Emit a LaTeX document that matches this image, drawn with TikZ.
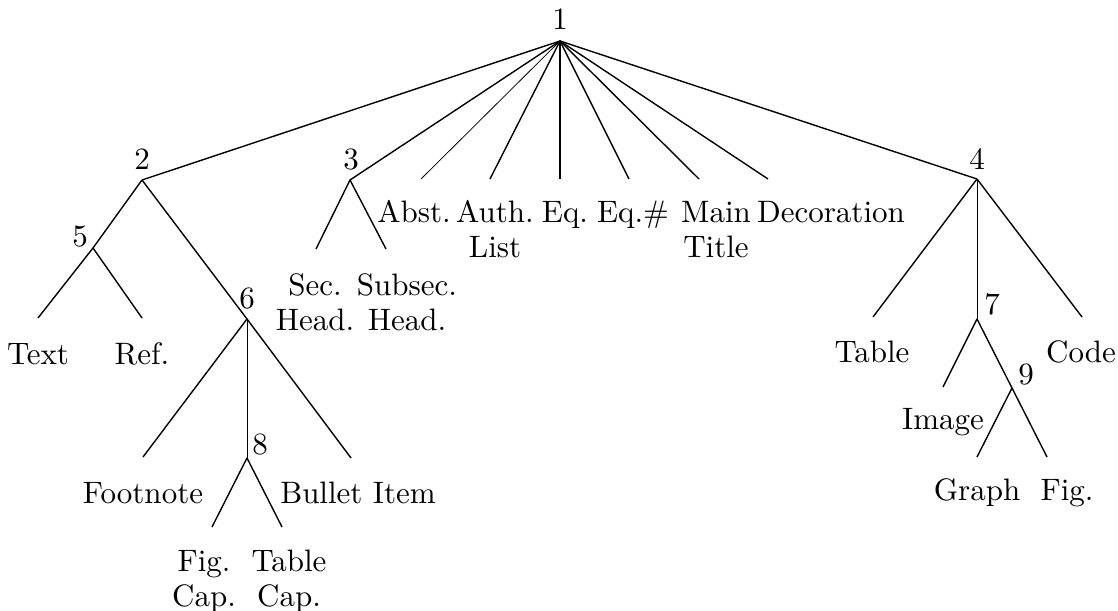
\documentclass[tikz,border=0pt]{standalone}
\renewcommand{\arraystretch}{0.94}
\newcommand{\twoline}[2]{\begin{tabular}[t]{@{}c@{}}#1\\#2\end{tabular}}
\begin{document}
\begin{tikzpicture}[x=0.3226pt,y=-0.3226pt,
  edge/.style={line width=0.45pt},
  thinedge/.style={line width=0.25pt},
  vedge/.style={line width=0.32pt},
  lbl/.style={anchor=base,inner sep=0pt,outer sep=0pt}]
\useasboundingbox (0,0) rectangle (1118,611);
% apex coordinates
\coordinate (a1) at (560,41);
\coordinate (a2) at (142,180);
\coordinate (a3) at (350,180);
\coordinate (a4) at (977,179);
\coordinate (a5) at (93,248);
\coordinate (a6) at (247,319);
\coordinate (a7) at (977,319);
\coordinate (a8) at (247,458);
\coordinate (a9) at (1012,388);
% free ends
\coordinate (eAbst) at (421,179);
\coordinate (eAuth) at (490,179);
\coordinate (eEq) at (560,179);
\coordinate (eEqh) at (629,179);
\coordinate (eMain) at (699,179);
\coordinate (eDeco) at (768,179);
\coordinate (eSec) at (316,249);
\coordinate (eSub) at (386,249);
\coordinate (eText) at (38,318);
\coordinate (eRef) at (142,318);
\coordinate (eFoot) at (143,457);
\coordinate (eBull) at (351,458);
\coordinate (eFigC) at (212,527);
\coordinate (eTabC) at (282,527);
\coordinate (eTable) at (873,317);
\coordinate (eCode) at (1082,317);
\coordinate (eImage) at (943,387);
\coordinate (eGraph) at (977,457);
\coordinate (eFig) at (1047,457);
% number labels
\node[lbl] (l1) at (560,30) {1};
\node[lbl] (l2) at (142,170) {2};
\node[lbl] (l3) at (351,170) {3};
\node[lbl] (l4) at (977,170) {4};
\node[lbl] (l5) at (80,247) {5};
\node[lbl] (l6) at (247,309) {6};
\node[lbl] (l7) at (992,315) {7};
\node[lbl] (l8) at (260,455) {8};
\node[lbl] (l9) at (1026,385) {9};
% edges
\draw[edge] (a1) -- (a2);
\draw[edge] (a1) -- (a3);
\draw[thinedge] (a1) -- (eAbst);
\draw[edge] (a1) -- (eAuth);
\draw[edge] (a1) -- (eEq);
\draw[edge] (a1) -- (eEqh);
\draw[edge] (a1) -- (eMain);
\draw[edge] (a1) -- (eDeco);
\draw[edge] (a1) -- (a4);
\draw[edge] (a2) -- (a5);
\draw[edge] (a2) -- (a6);
\draw[edge] (a5) -- (eText);
\draw[edge] (a5) -- (eRef);
\draw[edge] (a3) -- (eSec);
\draw[edge] (a3) -- (eSub);
\draw[edge] (a6) -- (eFoot);
\draw[vedge] (a6) -- (a8);
\draw[edge] (a6) -- (eBull);
\draw[edge] (a8) -- (eFigC);
\draw[edge] (a8) -- (eTabC);
\draw[edge] (a4) -- (eTable);
\draw[vedge] (a4) -- (a7);
\draw[edge] (a4) -- (eCode);
\draw[edge] (a7) -- (eImage);
\draw[edge] (a7) -- (a9);
\draw[edge] (a9) -- (eGraph);
\draw[edge] (a9) -- (eFig);
% leaf labels
\node[lbl] (tAbst) at (414,223) {Abst.};
\node[lbl] (tAuth) at (495,223) {\twoline{Auth.}{List}};
\node[lbl] (tEq) at (565,223) {Eq.};
\node[lbl] (tEqh) at (633,223) {Eq.\#};
\node[lbl] (tMain) at (716,223) {\twoline{Main}{Title}};
\node[lbl] (tDeco) at (831,223) {Decoration};
\node[lbl] (tSec) at (315,296) {\twoline{Sec.}{Head.}};
\node[lbl] (tSub) at (407,296) {\twoline{Subsec.}{Head.}};
\node[lbl] (tText) at (38,365) {Text};
\node[lbl] (tRef) at (142,365) {Ref.};
\node[lbl] (tFoot) at (143,504) {Footnote};
\node[lbl] (tBull) at (358,504) {Bullet Item};
\node[lbl] (tFigC) at (204,572) {\twoline{Fig.}{Cap.}};
\node[lbl] (tTabC) at (289,572) {\twoline{Table}{Cap.}};
\node[lbl] (tTable) at (872,363) {Table};
\node[lbl] (tCode) at (1081,363) {Code};
\node[lbl] (tImage) at (943,430) {Image};
\node[lbl] (tGraph) at (977,501) {Graph};
\node[lbl] (tFig) at (1067,501) {Fig.};
\end{tikzpicture}
\end{document}
